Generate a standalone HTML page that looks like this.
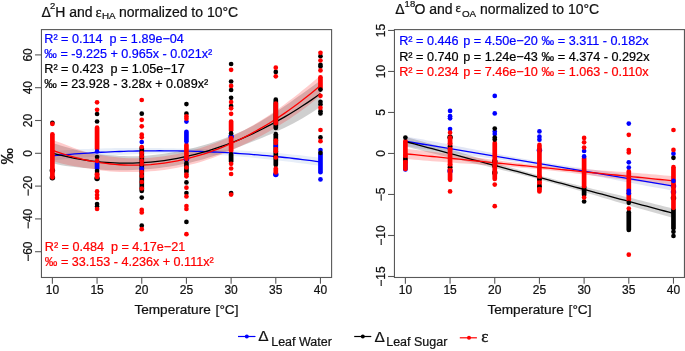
<!DOCTYPE html><html><head><meta charset="utf-8"><style>html,body{margin:0;padding:0;background:#fff;width:685px;height:351px;overflow:hidden;position:relative}svg{will-change:transform}</style></head><body><svg width="685" height="351" viewBox="0 0 685 351" style="position:absolute;left:0;top:0">
<g font-family='"Liberation Sans", sans-serif' style="paint-order:stroke">
<path d="M52.39,151.32 L56.86,150.92 L61.33,150.55 L65.79,150.20 L70.26,149.89 L74.73,149.60 L79.20,149.34 L83.67,149.10 L88.13,148.88 L92.60,148.69 L97.07,148.53 L101.54,148.38 L106.01,148.26 L110.47,148.15 L114.94,148.07 L119.41,148.00 L123.88,147.95 L128.35,147.92 L132.81,147.90 L137.28,147.89 L141.75,147.91 L146.22,147.93 L150.69,147.96 L155.15,148.01 L159.62,148.07 L164.09,148.13 L168.56,148.21 L173.03,148.29 L177.49,148.38 L181.96,148.47 L186.43,148.57 L190.90,148.67 L195.37,148.79 L199.83,148.91 L204.30,149.04 L208.77,149.18 L213.24,149.33 L217.71,149.49 L222.17,149.67 L226.64,149.85 L231.11,150.06 L235.58,150.27 L240.05,150.50 L244.51,150.74 L248.98,151.00 L253.45,151.28 L257.92,151.57 L262.39,151.89 L266.85,152.22 L271.32,152.57 L275.79,152.94 L280.26,153.33 L284.73,153.74 L289.19,154.18 L293.66,154.63 L298.13,155.11 L302.60,155.62 L307.07,156.15 L311.53,156.70 L316.00,157.28 L320.47,157.89 L320.47,165.89 L316.00,165.27 L311.53,164.66 L307.07,164.06 L302.60,163.47 L298.13,162.89 L293.66,162.32 L289.19,161.76 L284.73,161.22 L280.26,160.68 L275.79,160.16 L271.32,159.65 L266.85,159.16 L262.39,158.69 L257.92,158.22 L253.45,157.78 L248.98,157.35 L244.51,156.94 L240.05,156.55 L235.58,156.18 L231.11,155.83 L226.64,155.50 L222.17,155.19 L217.71,154.91 L213.24,154.64 L208.77,154.40 L204.30,154.18 L199.83,153.99 L195.37,153.82 L190.90,153.68 L186.43,153.57 L181.96,153.48 L177.49,153.43 L173.03,153.40 L168.56,153.40 L164.09,153.43 L159.62,153.48 L155.15,153.56 L150.69,153.67 L146.22,153.79 L141.75,153.94 L137.28,154.11 L132.81,154.31 L128.35,154.52 L123.88,154.75 L119.41,155.00 L114.94,155.27 L110.47,155.55 L106.01,155.85 L101.54,156.16 L97.07,156.49 L92.60,156.83 L88.13,157.18 L83.67,157.55 L79.20,157.92 L74.73,158.30 L70.26,158.69 L65.79,159.09 L61.33,159.50 L56.86,159.91 L52.39,160.32Z" fill="rgba(70,120,200,0.13)" stroke="none"/>
<path d="M52.39,143.12 L56.86,144.37 L61.33,145.66 L65.79,146.96 L70.26,148.25 L74.73,149.49 L79.20,150.65 L83.67,151.72 L88.13,152.65 L92.60,153.43 L97.07,154.01 L101.54,154.48 L106.01,154.91 L110.47,155.29 L114.94,155.62 L119.41,155.89 L123.88,156.09 L128.35,156.20 L132.81,156.21 L137.28,156.13 L141.75,155.93 L146.22,155.64 L150.69,155.27 L155.15,154.82 L159.62,154.30 L164.09,153.70 L168.56,153.03 L173.03,152.28 L177.49,151.46 L181.96,150.56 L186.43,149.59 L190.90,148.55 L195.37,147.43 L199.83,146.24 L204.30,144.98 L208.77,143.64 L213.24,142.24 L217.71,140.76 L222.17,139.20 L226.64,137.58 L231.11,135.89 L235.58,134.08 L240.05,132.12 L244.51,130.01 L248.98,127.76 L253.45,125.39 L257.92,122.90 L262.39,120.29 L266.85,117.59 L271.32,114.80 L275.79,111.92 L280.26,108.97 L284.73,105.96 L289.19,102.89 L293.66,99.77 L298.13,96.61 L302.60,93.43 L307.07,90.23 L311.53,87.01 L316.00,83.80 L320.47,80.59 L320.47,106.59 L316.00,109.71 L311.53,112.68 L307.07,115.50 L302.60,118.18 L298.13,120.74 L293.66,123.18 L289.19,125.51 L284.73,127.73 L280.26,129.87 L275.79,131.92 L271.32,133.90 L266.85,135.82 L262.39,137.68 L257.92,139.49 L253.45,141.26 L248.98,143.01 L244.51,144.74 L240.05,146.45 L235.58,148.17 L231.11,149.89 L226.64,151.58 L222.17,153.19 L217.71,154.73 L213.24,156.19 L208.77,157.58 L204.30,158.89 L199.83,160.13 L195.37,161.29 L190.90,162.38 L186.43,163.39 L181.96,164.33 L177.49,165.20 L173.03,165.99 L168.56,166.72 L164.09,167.36 L159.62,167.94 L155.15,168.45 L150.69,168.88 L146.22,169.24 L141.75,169.53 L137.28,169.77 L132.81,169.98 L128.35,170.14 L123.88,170.25 L119.41,170.29 L114.94,170.26 L110.47,170.15 L106.01,169.94 L101.54,169.63 L97.07,169.21 L92.60,168.76 L88.13,168.35 L83.67,167.96 L79.20,167.54 L74.73,167.09 L70.26,166.56 L65.79,165.92 L61.33,165.16 L56.86,164.24 L52.39,163.12Z" fill="rgba(0,0,0,0.19)" stroke="none"/>
<path d="M52.39,139.70 L56.86,141.38 L61.33,143.12 L65.79,144.87 L70.26,146.60 L74.73,148.27 L79.20,149.86 L83.67,151.31 L88.13,152.61 L92.60,153.71 L97.07,154.58 L101.54,155.30 L106.01,155.96 L110.47,156.57 L114.94,157.10 L119.41,157.55 L123.88,157.91 L128.35,158.17 L132.81,158.32 L137.28,158.35 L141.75,158.25 L146.22,158.04 L150.69,157.73 L155.15,157.33 L159.62,156.84 L164.09,156.25 L168.56,155.57 L173.03,154.80 L177.49,153.93 L181.96,152.98 L186.43,151.93 L190.90,150.79 L195.37,149.56 L199.83,148.24 L204.30,146.84 L208.77,145.34 L213.24,143.75 L217.71,142.07 L222.17,140.30 L226.64,138.45 L231.11,136.50 L235.58,134.45 L240.05,132.26 L244.51,129.95 L248.98,127.51 L253.45,124.96 L257.92,122.29 L262.39,119.52 L266.85,116.63 L271.32,113.65 L275.79,110.58 L280.26,107.41 L284.73,104.15 L289.19,100.82 L293.66,97.40 L298.13,93.92 L302.60,90.36 L307.07,86.74 L311.53,83.06 L316.00,79.33 L320.47,75.55 L320.47,95.55 L316.00,99.29 L311.53,102.90 L307.07,106.38 L302.60,109.74 L298.13,112.98 L293.66,116.11 L289.19,119.13 L284.73,122.04 L280.26,124.86 L275.79,127.58 L271.32,130.20 L266.85,132.75 L262.39,135.21 L257.92,137.59 L253.45,139.90 L248.98,142.14 L244.51,144.31 L240.05,146.43 L235.58,148.49 L231.11,150.50 L226.64,152.44 L222.17,154.29 L217.71,156.05 L213.24,157.71 L208.77,159.27 L204.30,160.75 L199.83,162.13 L195.37,163.42 L190.90,164.62 L186.43,165.73 L181.96,166.75 L177.49,167.67 L173.03,168.51 L168.56,169.26 L164.09,169.91 L159.62,170.48 L155.15,170.95 L150.69,171.34 L146.22,171.64 L141.75,171.85 L137.28,172.00 L132.81,172.09 L128.35,172.12 L123.88,172.08 L119.41,171.95 L114.94,171.74 L110.47,171.42 L106.01,171.00 L101.54,170.45 L97.07,169.78 L92.60,169.07 L88.13,168.41 L83.67,167.76 L79.20,167.10 L74.73,166.37 L70.26,165.56 L65.79,164.62 L61.33,163.52 L56.86,162.22 L52.39,160.70Z" fill="rgba(255,0,0,0.20)" stroke="none"/>
<path d="M52.39,155.82 L56.86,155.41 L61.33,155.02 L65.79,154.65 L70.26,154.29 L74.73,153.95 L79.20,153.63 L83.67,153.32 L88.13,153.03 L92.60,152.76 L97.07,152.51 L101.54,152.27 L106.01,152.05 L110.47,151.85 L114.94,151.67 L119.41,151.50 L123.88,151.35 L128.35,151.22 L132.81,151.10 L137.28,151.00 L141.75,150.92 L146.22,150.86 L150.69,150.81 L155.15,150.79 L159.62,150.77 L164.09,150.78 L168.56,150.80 L173.03,150.84 L177.49,150.90 L181.96,150.98 L186.43,151.07 L190.90,151.18 L195.37,151.31 L199.83,151.45 L204.30,151.61 L208.77,151.79 L213.24,151.99 L217.71,152.20 L222.17,152.43 L226.64,152.68 L231.11,152.94 L235.58,153.23 L240.05,153.53 L244.51,153.84 L248.98,154.18 L253.45,154.53 L257.92,154.90 L262.39,155.29 L266.85,155.69 L271.32,156.11 L275.79,156.55 L280.26,157.01 L284.73,157.48 L289.19,157.97 L293.66,158.48 L298.13,159.00 L302.60,159.54 L307.07,160.10 L311.53,160.68 L316.00,161.27 L320.47,161.89" fill="none" stroke="#0000ff" stroke-width="1.3"/>
<path d="M52.39,153.12 L56.86,154.30 L61.33,155.41 L65.79,156.44 L70.26,157.40 L74.73,158.29 L79.20,159.10 L83.67,159.84 L88.13,160.50 L92.60,161.09 L97.07,161.61 L101.54,162.05 L106.01,162.42 L110.47,162.72 L114.94,162.94 L119.41,163.09 L123.88,163.17 L128.35,163.17 L132.81,163.10 L137.28,162.95 L141.75,162.73 L146.22,162.44 L150.69,162.07 L155.15,161.63 L159.62,161.12 L164.09,160.53 L168.56,159.87 L173.03,159.14 L177.49,158.33 L181.96,157.45 L186.43,156.49 L190.90,155.46 L195.37,154.36 L199.83,153.19 L204.30,151.94 L208.77,150.61 L213.24,149.21 L217.71,147.74 L222.17,146.20 L226.64,144.58 L231.11,142.89 L235.58,141.12 L240.05,139.28 L244.51,137.37 L248.98,135.39 L253.45,133.33 L257.92,131.19 L262.39,128.99 L266.85,126.70 L271.32,124.35 L275.79,121.92 L280.26,119.42 L284.73,116.84 L289.19,114.20 L293.66,111.47 L298.13,108.68 L302.60,105.81 L307.07,102.86 L311.53,99.85 L316.00,96.76 L320.47,93.59" fill="none" stroke="#000000" stroke-width="1.3"/>
<path d="M52.39,150.20 L56.86,151.80 L61.33,153.32 L65.79,154.75 L70.26,156.08 L74.73,157.32 L79.20,158.48 L83.67,159.54 L88.13,160.51 L92.60,161.39 L97.07,162.18 L101.54,162.87 L106.01,163.48 L110.47,163.99 L114.94,164.42 L119.41,164.75 L123.88,164.99 L128.35,165.15 L132.81,165.21 L137.28,165.18 L141.75,165.05 L146.22,164.84 L150.69,164.54 L155.15,164.14 L159.62,163.66 L164.09,163.08 L168.56,162.41 L173.03,161.65 L177.49,160.80 L181.96,159.86 L186.43,158.83 L190.90,157.71 L195.37,156.49 L199.83,155.19 L204.30,153.79 L208.77,152.30 L213.24,150.73 L217.71,149.06 L222.17,147.30 L226.64,145.45 L231.11,143.50 L235.58,141.47 L240.05,139.35 L244.51,137.13 L248.98,134.83 L253.45,132.43 L257.92,129.94 L262.39,127.36 L266.85,124.69 L271.32,121.93 L275.79,119.08 L280.26,116.13 L284.73,113.10 L289.19,109.97 L293.66,106.76 L298.13,103.45 L302.60,100.05 L307.07,96.56 L311.53,92.98 L316.00,89.31 L320.47,85.55" fill="none" stroke="#ff0000" stroke-width="1.3"/>
<circle cx="186.43" cy="159.3" r="2.75" fill="#0000ff"/>
<circle cx="231.11" cy="136.5" r="2.75" fill="#0000ff"/>
<circle cx="275.79" cy="174.5" r="2.75" fill="#0000ff"/>
<circle cx="52.39" cy="170.6" r="2.75" fill="#000000"/>
<circle cx="52.39" cy="177.8" r="2.75" fill="#000000"/>
<circle cx="97.07" cy="178.5" r="2.75" fill="#000000"/>
<line x1="52.39" y1="134.3" x2="52.39" y2="177.3" stroke="#ff0000" stroke-width="4.7" stroke-linecap="round"/>
<line x1="97.07" y1="127.7" x2="97.07" y2="149.0" stroke="#ff0000" stroke-width="4.7" stroke-linecap="round"/>
<line x1="97.07" y1="163.5" x2="97.07" y2="168.5" stroke="#0000ff" stroke-width="4.7" stroke-linecap="round"/>
<line x1="97.07" y1="173.0" x2="97.07" y2="177.0" stroke="#ff0000" stroke-width="4.7" stroke-linecap="round"/>
<line x1="141.75" y1="148.0" x2="141.75" y2="191.0" stroke="#000000" stroke-width="4.7" stroke-linecap="round"/>
<line x1="186.43" y1="144.9" x2="186.43" y2="158.8" stroke="#ff0000" stroke-width="4.7" stroke-linecap="round"/>
<line x1="186.43" y1="131.8" x2="186.43" y2="141.4" stroke="#0000ff" stroke-width="4.7" stroke-linecap="round"/>
<line x1="186.43" y1="163.0" x2="186.43" y2="172.0" stroke="#000000" stroke-width="4.7" stroke-linecap="round"/>
<line x1="231.11" y1="121.6" x2="231.11" y2="130.3" stroke="#ff0000" stroke-width="4.7" stroke-linecap="round"/>
<line x1="231.11" y1="138.0" x2="231.11" y2="151.0" stroke="#ff0000" stroke-width="4.7" stroke-linecap="round"/>
<line x1="231.11" y1="154.4" x2="231.11" y2="161.5" stroke="#000000" stroke-width="4.7" stroke-linecap="round"/>
<line x1="275.79" y1="99.7" x2="275.79" y2="127.9" stroke="#000000" stroke-width="4.7" stroke-linecap="round"/>
<line x1="275.79" y1="103.6" x2="275.79" y2="123.2" stroke="#ff0000" stroke-width="4.7" stroke-linecap="round"/>
<line x1="275.79" y1="134.2" x2="275.79" y2="165.0" stroke="#000000" stroke-width="4.7" stroke-linecap="round"/>
<line x1="275.79" y1="168.5" x2="275.79" y2="172.4" stroke="#ff0000" stroke-width="4.7" stroke-linecap="round"/>
<line x1="320.47" y1="77.3" x2="320.47" y2="87.9" stroke="#ff0000" stroke-width="4.7" stroke-linecap="round"/>
<line x1="320.47" y1="154.3" x2="320.47" y2="172.2" stroke="#0000ff" stroke-width="4.7" stroke-linecap="round"/>
<circle cx="97.07" cy="151.5" r="2.35" fill="#0000ff"/>
<circle cx="141.75" cy="142.0" r="2.35" fill="#0000ff"/>
<circle cx="141.75" cy="168.5" r="2.35" fill="#0000ff"/>
<circle cx="186.43" cy="121.6" r="2.35" fill="#0000ff"/>
<circle cx="275.79" cy="146.0" r="2.35" fill="#0000ff"/>
<circle cx="320.47" cy="150.0" r="2.35" fill="#0000ff"/>
<circle cx="320.47" cy="179.4" r="2.35" fill="#0000ff"/>
<circle cx="52.39" cy="122.8" r="2.35" fill="#000000"/>
<circle cx="97.07" cy="114.0" r="2.35" fill="#000000"/>
<circle cx="97.07" cy="121.5" r="2.35" fill="#000000"/>
<circle cx="97.07" cy="157.0" r="2.35" fill="#000000"/>
<circle cx="97.07" cy="171.0" r="2.35" fill="#000000"/>
<circle cx="97.07" cy="204.0" r="2.35" fill="#000000"/>
<circle cx="97.07" cy="206.4" r="2.35" fill="#000000"/>
<circle cx="141.75" cy="113.7" r="2.35" fill="#000000"/>
<circle cx="141.75" cy="197.6" r="2.35" fill="#000000"/>
<circle cx="141.75" cy="225.7" r="2.35" fill="#000000"/>
<circle cx="186.43" cy="104.1" r="2.35" fill="#000000"/>
<circle cx="186.43" cy="113.7" r="2.35" fill="#000000"/>
<circle cx="186.43" cy="182.4" r="2.35" fill="#000000"/>
<circle cx="186.43" cy="193.0" r="2.35" fill="#000000"/>
<circle cx="186.43" cy="221.9" r="2.35" fill="#000000"/>
<circle cx="231.11" cy="64.0" r="2.35" fill="#000000"/>
<circle cx="231.11" cy="81.5" r="2.35" fill="#000000"/>
<circle cx="231.11" cy="90.0" r="2.35" fill="#000000"/>
<circle cx="231.11" cy="97.8" r="2.35" fill="#000000"/>
<circle cx="231.11" cy="106.0" r="2.35" fill="#000000"/>
<circle cx="231.11" cy="133.4" r="2.35" fill="#000000"/>
<circle cx="231.11" cy="193.0" r="2.35" fill="#000000"/>
<circle cx="275.79" cy="71.9" r="2.35" fill="#000000"/>
<circle cx="320.47" cy="56.2" r="2.35" fill="#000000"/>
<circle cx="320.47" cy="64.8" r="2.35" fill="#000000"/>
<circle cx="320.47" cy="66.5" r="2.35" fill="#000000"/>
<circle cx="320.47" cy="89.6" r="2.35" fill="#000000"/>
<circle cx="320.47" cy="101.8" r="2.35" fill="#000000"/>
<circle cx="320.47" cy="104.4" r="2.35" fill="#000000"/>
<circle cx="320.47" cy="111.2" r="2.35" fill="#000000"/>
<circle cx="320.47" cy="113.5" r="2.35" fill="#000000"/>
<circle cx="320.47" cy="137.4" r="2.35" fill="#000000"/>
<circle cx="320.47" cy="152.8" r="2.35" fill="#000000"/>
<circle cx="52.39" cy="123.9" r="2.35" fill="#ff0000"/>
<circle cx="97.07" cy="102.3" r="2.35" fill="#ff0000"/>
<circle cx="97.07" cy="109.8" r="2.35" fill="#ff0000"/>
<circle cx="97.07" cy="160.8" r="2.35" fill="#ff0000"/>
<circle cx="97.07" cy="174.5" r="2.35" fill="#ff0000"/>
<circle cx="97.07" cy="191.4" r="2.35" fill="#ff0000"/>
<circle cx="97.07" cy="195.0" r="2.35" fill="#ff0000"/>
<circle cx="97.07" cy="198.0" r="2.35" fill="#ff0000"/>
<circle cx="97.07" cy="209.0" r="2.35" fill="#ff0000"/>
<circle cx="141.75" cy="100.0" r="2.35" fill="#ff0000"/>
<circle cx="141.75" cy="119.8" r="2.35" fill="#ff0000"/>
<circle cx="141.75" cy="126.3" r="2.35" fill="#ff0000"/>
<circle cx="141.75" cy="134.7" r="2.35" fill="#ff0000"/>
<circle cx="141.75" cy="137.3" r="2.35" fill="#ff0000"/>
<circle cx="141.75" cy="147.0" r="2.35" fill="#ff0000"/>
<circle cx="141.75" cy="153.0" r="2.35" fill="#ff0000"/>
<circle cx="141.75" cy="156.5" r="2.35" fill="#ff0000"/>
<circle cx="141.75" cy="161.0" r="2.35" fill="#ff0000"/>
<circle cx="141.75" cy="164.0" r="2.35" fill="#ff0000"/>
<circle cx="141.75" cy="172.0" r="2.35" fill="#ff0000"/>
<circle cx="141.75" cy="176.0" r="2.35" fill="#ff0000"/>
<circle cx="141.75" cy="182.0" r="2.35" fill="#ff0000"/>
<circle cx="141.75" cy="188.5" r="2.35" fill="#ff0000"/>
<circle cx="141.75" cy="209.9" r="2.35" fill="#ff0000"/>
<circle cx="141.75" cy="212.5" r="2.35" fill="#ff0000"/>
<circle cx="141.75" cy="229.2" r="2.35" fill="#ff0000"/>
<circle cx="186.43" cy="116.4" r="2.35" fill="#ff0000"/>
<circle cx="186.43" cy="118.7" r="2.35" fill="#ff0000"/>
<circle cx="186.43" cy="167.5" r="2.35" fill="#ff0000"/>
<circle cx="186.43" cy="174.5" r="2.35" fill="#ff0000"/>
<circle cx="186.43" cy="176.3" r="2.35" fill="#ff0000"/>
<circle cx="186.43" cy="187.7" r="2.35" fill="#ff0000"/>
<circle cx="186.43" cy="196.4" r="2.35" fill="#ff0000"/>
<circle cx="186.43" cy="206.0" r="2.35" fill="#ff0000"/>
<circle cx="186.43" cy="209.0" r="2.35" fill="#ff0000"/>
<circle cx="186.43" cy="234.2" r="2.35" fill="#ff0000"/>
<circle cx="231.11" cy="69.8" r="2.35" fill="#ff0000"/>
<circle cx="231.11" cy="85.9" r="2.35" fill="#ff0000"/>
<circle cx="231.11" cy="102.0" r="2.35" fill="#ff0000"/>
<circle cx="231.11" cy="108.3" r="2.35" fill="#ff0000"/>
<circle cx="231.11" cy="113.8" r="2.35" fill="#ff0000"/>
<circle cx="231.11" cy="163.8" r="2.35" fill="#ff0000"/>
<circle cx="231.11" cy="168.5" r="2.35" fill="#ff0000"/>
<circle cx="231.11" cy="174.0" r="2.35" fill="#ff0000"/>
<circle cx="231.11" cy="194.6" r="2.35" fill="#ff0000"/>
<circle cx="275.79" cy="67.7" r="2.35" fill="#ff0000"/>
<circle cx="275.79" cy="76.3" r="2.35" fill="#ff0000"/>
<circle cx="275.79" cy="140.5" r="2.35" fill="#ff0000"/>
<circle cx="275.79" cy="143.0" r="2.35" fill="#ff0000"/>
<circle cx="275.79" cy="149.0" r="2.35" fill="#ff0000"/>
<circle cx="275.79" cy="151.3" r="2.35" fill="#ff0000"/>
<circle cx="275.79" cy="157.5" r="2.35" fill="#ff0000"/>
<circle cx="320.47" cy="52.8" r="2.35" fill="#ff0000"/>
<circle cx="320.47" cy="60.5" r="2.35" fill="#ff0000"/>
<circle cx="320.47" cy="70.4" r="2.35" fill="#ff0000"/>
<circle cx="320.47" cy="95.8" r="2.35" fill="#ff0000"/>
<circle cx="320.47" cy="107.8" r="2.35" fill="#ff0000"/>
<circle cx="320.47" cy="130.0" r="2.35" fill="#ff0000"/>
<circle cx="320.47" cy="141.2" r="2.35" fill="#ff0000"/>
<path d="M405.39,136.45 L409.86,137.21 L414.33,137.98 L418.79,138.77 L423.26,139.57 L427.73,140.39 L432.20,141.22 L436.67,142.06 L441.13,142.91 L445.60,143.77 L450.07,144.64 L454.54,145.51 L459.01,146.39 L463.47,147.28 L467.94,148.16 L472.41,149.05 L476.88,149.93 L481.35,150.82 L485.81,151.70 L490.28,152.58 L494.75,153.45 L499.22,154.32 L503.69,155.18 L508.15,156.03 L512.62,156.87 L517.09,157.70 L521.56,158.52 L526.03,159.32 L530.49,160.11 L534.96,160.89 L539.43,161.64 L543.90,162.38 L548.37,163.10 L552.83,163.81 L557.30,164.50 L561.77,165.18 L566.24,165.85 L570.71,166.51 L575.17,167.16 L579.64,167.80 L584.11,168.43 L588.58,169.06 L593.05,169.68 L597.51,170.30 L601.98,170.92 L606.45,171.54 L610.92,172.15 L615.39,172.77 L619.85,173.39 L624.32,174.01 L628.79,174.64 L633.26,175.27 L637.73,175.92 L642.19,176.56 L646.66,177.22 L651.13,177.89 L655.60,178.57 L660.07,179.26 L664.53,179.97 L669.00,180.69 L673.47,181.43 L673.47,190.63 L669.00,189.88 L664.53,189.10 L660.07,188.32 L655.60,187.52 L651.13,186.71 L646.66,185.88 L642.19,185.05 L637.73,184.20 L633.26,183.35 L628.79,182.49 L624.32,181.63 L619.85,180.76 L615.39,179.89 L610.92,179.01 L606.45,178.14 L601.98,177.26 L597.51,176.38 L593.05,175.51 L588.58,174.64 L584.11,173.78 L579.64,172.92 L575.17,172.07 L570.71,171.22 L566.24,170.39 L561.77,169.57 L557.30,168.75 L552.83,167.95 L548.37,167.17 L543.90,166.40 L539.43,165.64 L534.96,164.90 L530.49,164.18 L526.03,163.48 L521.56,162.79 L517.09,162.12 L512.62,161.45 L508.15,160.80 L503.69,160.16 L499.22,159.53 L494.75,158.90 L490.28,158.29 L485.81,157.67 L481.35,157.06 L476.88,156.45 L472.41,155.85 L467.94,155.24 L463.47,154.63 L459.01,154.02 L454.54,153.41 L450.07,152.79 L445.60,152.16 L441.13,151.53 L436.67,150.89 L432.20,150.24 L427.73,149.58 L423.26,148.90 L418.79,148.21 L414.33,147.51 L409.86,146.79 L405.39,146.05Z" fill="rgba(60,90,190,0.15)" stroke="none"/>
<path d="M405.39,136.76 L409.86,137.96 L414.33,139.19 L418.79,140.43 L423.26,141.68 L427.73,142.95 L432.20,144.23 L436.67,145.52 L441.13,146.83 L445.60,148.14 L450.07,149.46 L454.54,150.78 L459.01,152.11 L463.47,153.44 L467.94,154.78 L472.41,156.12 L476.88,157.45 L481.35,158.79 L485.81,160.12 L490.28,161.45 L494.75,162.78 L499.22,164.10 L503.69,165.41 L508.15,166.71 L512.62,168.00 L517.09,169.28 L521.56,170.55 L526.03,171.81 L530.49,173.05 L534.96,174.27 L539.43,175.48 L543.90,176.66 L548.37,177.84 L552.83,179.00 L557.30,180.14 L561.77,181.27 L566.24,182.39 L570.71,183.50 L575.17,184.60 L579.64,185.69 L584.11,186.78 L588.58,187.85 L593.05,188.93 L597.51,190.00 L601.98,191.07 L606.45,192.14 L610.92,193.20 L615.39,194.27 L619.85,195.34 L624.32,196.42 L628.79,197.50 L633.26,198.58 L637.73,199.67 L642.19,200.77 L646.66,201.88 L651.13,203.00 L655.60,204.13 L660.07,205.28 L664.53,206.43 L669.00,207.61 L673.47,208.80 L673.47,218.00 L669.00,216.79 L664.53,215.57 L660.07,214.33 L655.60,213.08 L651.13,211.82 L646.66,210.54 L642.19,209.26 L637.73,207.96 L633.26,206.66 L628.79,205.35 L624.32,204.03 L619.85,202.71 L615.39,201.39 L610.92,200.06 L606.45,198.74 L601.98,197.41 L597.51,196.08 L593.05,194.76 L588.58,193.44 L584.11,192.12 L579.64,190.81 L575.17,189.51 L570.71,188.22 L566.24,186.93 L561.77,185.66 L557.30,184.39 L552.83,183.14 L548.37,181.90 L543.90,180.68 L539.43,179.48 L534.96,178.29 L530.49,177.12 L526.03,175.96 L521.56,174.82 L517.09,173.70 L512.62,172.58 L508.15,171.48 L503.69,170.39 L499.22,169.30 L494.75,168.23 L490.28,167.16 L485.81,166.09 L481.35,165.03 L476.88,163.97 L472.41,162.92 L467.94,161.86 L463.47,160.80 L459.01,159.74 L454.54,158.67 L450.07,157.60 L445.60,156.53 L441.13,155.44 L436.67,154.35 L432.20,153.25 L427.73,152.14 L423.26,151.01 L418.79,149.87 L414.33,148.71 L409.86,147.54 L405.39,146.36Z" fill="rgba(0,0,0,0.17)" stroke="none"/>
<path d="M405.39,148.78 L409.86,149.24 L414.33,149.72 L418.79,150.22 L423.26,150.73 L427.73,151.26 L432.20,151.80 L436.67,152.35 L441.13,152.92 L445.60,153.49 L450.07,154.07 L454.54,154.66 L459.01,155.25 L463.47,155.85 L467.94,156.45 L472.41,157.05 L476.88,157.65 L481.35,158.25 L485.81,158.85 L490.28,159.44 L494.75,160.03 L499.22,160.61 L503.69,161.18 L508.15,161.74 L512.62,162.30 L517.09,162.84 L521.56,163.37 L526.03,163.88 L530.49,164.37 L534.96,164.85 L539.43,165.32 L543.90,165.76 L548.37,166.18 L552.83,166.60 L557.30,166.99 L561.77,167.38 L566.24,167.75 L570.71,168.11 L575.17,168.47 L579.64,168.81 L584.11,169.15 L588.58,169.48 L593.05,169.81 L597.51,170.14 L601.98,170.46 L606.45,170.78 L610.92,171.10 L615.39,171.42 L619.85,171.75 L624.32,172.08 L628.79,172.41 L633.26,172.75 L637.73,173.09 L642.19,173.45 L646.66,173.81 L651.13,174.18 L655.60,174.57 L660.07,174.97 L664.53,175.38 L669.00,175.80 L673.47,176.25 L673.47,185.45 L669.00,184.99 L664.53,184.51 L660.07,184.02 L655.60,183.52 L651.13,183.00 L646.66,182.47 L642.19,181.93 L637.73,181.38 L633.26,180.83 L628.79,180.26 L624.32,179.69 L619.85,179.12 L615.39,178.54 L610.92,177.96 L606.45,177.38 L601.98,176.80 L597.51,176.22 L593.05,175.64 L588.58,175.07 L584.11,174.50 L579.64,173.94 L575.17,173.38 L570.71,172.83 L566.24,172.29 L561.77,171.76 L557.30,171.25 L552.83,170.74 L548.37,170.25 L543.90,169.77 L539.43,169.32 L534.96,168.87 L530.49,168.45 L526.03,168.05 L521.56,167.66 L517.09,167.28 L512.62,166.92 L508.15,166.57 L503.69,166.23 L499.22,165.90 L494.75,165.58 L490.28,165.27 L485.81,164.96 L481.35,164.65 L476.88,164.35 L472.41,164.05 L467.94,163.75 L463.47,163.45 L459.01,163.14 L454.54,162.83 L450.07,162.52 L445.60,162.19 L441.13,161.87 L436.67,161.53 L432.20,161.18 L427.73,160.82 L423.26,160.44 L418.79,160.05 L414.33,159.65 L409.86,159.22 L405.39,158.78Z" fill="rgba(255,0,0,0.20)" stroke="none"/>
<path d="M405.39,141.25 L409.86,142.00 L414.33,142.74 L418.79,143.49 L423.26,144.24 L427.73,144.98 L432.20,145.73 L436.67,146.48 L441.13,147.22 L445.60,147.97 L450.07,148.72 L454.54,149.46 L459.01,150.21 L463.47,150.95 L467.94,151.70 L472.41,152.45 L476.88,153.19 L481.35,153.94 L485.81,154.69 L490.28,155.43 L494.75,156.18 L499.22,156.92 L503.69,157.67 L508.15,158.42 L512.62,159.16 L517.09,159.91 L521.56,160.66 L526.03,161.40 L530.49,162.15 L534.96,162.89 L539.43,163.64 L543.90,164.39 L548.37,165.13 L552.83,165.88 L557.30,166.63 L561.77,167.37 L566.24,168.12 L570.71,168.87 L575.17,169.61 L579.64,170.36 L584.11,171.10 L588.58,171.85 L593.05,172.60 L597.51,173.34 L601.98,174.09 L606.45,174.84 L610.92,175.58 L615.39,176.33 L619.85,177.07 L624.32,177.82 L628.79,178.57 L633.26,179.31 L637.73,180.06 L642.19,180.81 L646.66,181.55 L651.13,182.30 L655.60,183.04 L660.07,183.79 L664.53,184.54 L669.00,185.28 L673.47,186.03" fill="none" stroke="#0000ff" stroke-width="1.3"/>
<path d="M405.39,141.56 L409.86,142.75 L414.33,143.95 L418.79,145.15 L423.26,146.35 L427.73,147.54 L432.20,148.74 L436.67,149.94 L441.13,151.13 L445.60,152.33 L450.07,153.53 L454.54,154.73 L459.01,155.92 L463.47,157.12 L467.94,158.32 L472.41,159.52 L476.88,160.71 L481.35,161.91 L485.81,163.11 L490.28,164.31 L494.75,165.50 L499.22,166.70 L503.69,167.90 L508.15,169.09 L512.62,170.29 L517.09,171.49 L521.56,172.69 L526.03,173.88 L530.49,175.08 L534.96,176.28 L539.43,177.48 L543.90,178.67 L548.37,179.87 L552.83,181.07 L557.30,182.27 L561.77,183.46 L566.24,184.66 L570.71,185.86 L575.17,187.05 L579.64,188.25 L584.11,189.45 L588.58,190.65 L593.05,191.84 L597.51,193.04 L601.98,194.24 L606.45,195.44 L610.92,196.63 L615.39,197.83 L619.85,199.03 L624.32,200.23 L628.79,201.42 L633.26,202.62 L637.73,203.82 L642.19,205.02 L646.66,206.21 L651.13,207.41 L655.60,208.61 L660.07,209.80 L664.53,211.00 L669.00,212.20 L673.47,213.40" fill="none" stroke="#000000" stroke-width="1.3"/>
<path d="M405.39,153.78 L409.86,154.23 L414.33,154.69 L418.79,155.14 L423.26,155.59 L427.73,156.04 L432.20,156.49 L436.67,156.94 L441.13,157.39 L445.60,157.84 L450.07,158.29 L454.54,158.75 L459.01,159.20 L463.47,159.65 L467.94,160.10 L472.41,160.55 L476.88,161.00 L481.35,161.45 L485.81,161.90 L490.28,162.35 L494.75,162.80 L499.22,163.26 L503.69,163.71 L508.15,164.16 L512.62,164.61 L517.09,165.06 L521.56,165.51 L526.03,165.96 L530.49,166.41 L534.96,166.86 L539.43,167.32 L543.90,167.77 L548.37,168.22 L552.83,168.67 L557.30,169.12 L561.77,169.57 L566.24,170.02 L570.71,170.47 L575.17,170.92 L579.64,171.37 L584.11,171.83 L588.58,172.28 L593.05,172.73 L597.51,173.18 L601.98,173.63 L606.45,174.08 L610.92,174.53 L615.39,174.98 L619.85,175.43 L624.32,175.89 L628.79,176.34 L633.26,176.79 L637.73,177.24 L642.19,177.69 L646.66,178.14 L651.13,178.59 L655.60,179.04 L660.07,179.49 L664.53,179.94 L669.00,180.40 L673.47,180.85" fill="none" stroke="#ff0000" stroke-width="1.3"/>
<circle cx="450.07" cy="171.0" r="2.75" fill="#0000ff"/>
<circle cx="539.43" cy="150.2" r="2.75" fill="#0000ff"/>
<circle cx="673.47" cy="186.0" r="2.75" fill="#0000ff"/>
<circle cx="673.47" cy="192.0" r="2.75" fill="#0000ff"/>
<circle cx="450.07" cy="137.2" r="2.75" fill="#000000"/>
<circle cx="494.75" cy="161.3" r="2.75" fill="#000000"/>
<circle cx="494.75" cy="165.7" r="2.75" fill="#000000"/>
<circle cx="494.75" cy="172.7" r="2.75" fill="#000000"/>
<circle cx="673.47" cy="198.0" r="2.75" fill="#000000"/>
<line x1="405.39" y1="160.0" x2="405.39" y2="169.5" stroke="#0000ff" stroke-width="4.7" stroke-linecap="round"/>
<line x1="405.39" y1="141.1" x2="405.39" y2="169.0" stroke="#ff0000" stroke-width="4.7" stroke-linecap="round"/>
<line x1="450.07" y1="137.6" x2="450.07" y2="179.8" stroke="#ff0000" stroke-width="4.7" stroke-linecap="round"/>
<line x1="494.75" y1="142.9" x2="494.75" y2="179.0" stroke="#ff0000" stroke-width="4.7" stroke-linecap="round"/>
<line x1="539.43" y1="144.9" x2="539.43" y2="191.4" stroke="#ff0000" stroke-width="4.7" stroke-linecap="round"/>
<line x1="584.11" y1="187.0" x2="584.11" y2="195.0" stroke="#000000" stroke-width="4.7" stroke-linecap="round"/>
<line x1="584.11" y1="158.1" x2="584.11" y2="186.2" stroke="#ff0000" stroke-width="4.7" stroke-linecap="round"/>
<line x1="628.79" y1="212.2" x2="628.79" y2="230.0" stroke="#000000" stroke-width="4.7" stroke-linecap="round"/>
<line x1="628.79" y1="171.4" x2="628.79" y2="200.0" stroke="#ff0000" stroke-width="4.7" stroke-linecap="round"/>
<line x1="673.47" y1="209.5" x2="673.47" y2="228.3" stroke="#000000" stroke-width="4.7" stroke-linecap="round"/>
<line x1="673.47" y1="167.2" x2="673.47" y2="207.8" stroke="#ff0000" stroke-width="4.7" stroke-linecap="round"/>
<circle cx="450.07" cy="110.9" r="2.35" fill="#0000ff"/>
<circle cx="450.07" cy="116.2" r="2.35" fill="#0000ff"/>
<circle cx="450.07" cy="118.3" r="2.35" fill="#0000ff"/>
<circle cx="450.07" cy="129.1" r="2.35" fill="#0000ff"/>
<circle cx="494.75" cy="95.9" r="2.35" fill="#0000ff"/>
<circle cx="494.75" cy="113.4" r="2.35" fill="#0000ff"/>
<circle cx="494.75" cy="131.5" r="2.35" fill="#0000ff"/>
<circle cx="494.75" cy="134.0" r="2.35" fill="#0000ff"/>
<circle cx="539.43" cy="131.4" r="2.35" fill="#0000ff"/>
<circle cx="539.43" cy="136.7" r="2.35" fill="#0000ff"/>
<circle cx="539.43" cy="139.7" r="2.35" fill="#0000ff"/>
<circle cx="584.11" cy="151.0" r="2.35" fill="#0000ff"/>
<circle cx="584.11" cy="156.4" r="2.35" fill="#0000ff"/>
<circle cx="628.79" cy="123.6" r="2.35" fill="#0000ff"/>
<circle cx="628.79" cy="162.3" r="2.35" fill="#0000ff"/>
<circle cx="628.79" cy="167.5" r="2.35" fill="#0000ff"/>
<circle cx="628.79" cy="190.8" r="2.35" fill="#0000ff"/>
<circle cx="628.79" cy="193.2" r="2.35" fill="#0000ff"/>
<circle cx="673.47" cy="153.7" r="2.35" fill="#0000ff"/>
<circle cx="673.47" cy="180.9" r="2.35" fill="#0000ff"/>
<circle cx="405.39" cy="137.6" r="2.35" fill="#000000"/>
<circle cx="405.39" cy="159.0" r="2.35" fill="#000000"/>
<circle cx="450.07" cy="146.4" r="2.35" fill="#000000"/>
<circle cx="450.07" cy="167.2" r="2.35" fill="#000000"/>
<circle cx="494.75" cy="128.6" r="2.35" fill="#000000"/>
<circle cx="494.75" cy="137.6" r="2.35" fill="#000000"/>
<circle cx="494.75" cy="139.6" r="2.35" fill="#000000"/>
<circle cx="539.43" cy="179.2" r="2.35" fill="#000000"/>
<circle cx="539.43" cy="186.2" r="2.35" fill="#000000"/>
<circle cx="584.11" cy="201.5" r="2.35" fill="#000000"/>
<circle cx="628.79" cy="202.8" r="2.35" fill="#000000"/>
<circle cx="673.47" cy="157.8" r="2.35" fill="#000000"/>
<circle cx="673.47" cy="231.8" r="2.35" fill="#000000"/>
<circle cx="673.47" cy="236.0" r="2.35" fill="#000000"/>
<circle cx="405.39" cy="155.8" r="2.35" fill="#ff0000"/>
<circle cx="405.39" cy="162.2" r="2.35" fill="#ff0000"/>
<circle cx="450.07" cy="132.7" r="2.35" fill="#ff0000"/>
<circle cx="450.07" cy="143.6" r="2.35" fill="#ff0000"/>
<circle cx="450.07" cy="149.2" r="2.35" fill="#ff0000"/>
<circle cx="450.07" cy="164.4" r="2.35" fill="#ff0000"/>
<circle cx="450.07" cy="170.0" r="2.35" fill="#ff0000"/>
<circle cx="450.07" cy="191.4" r="2.35" fill="#ff0000"/>
<circle cx="494.75" cy="184.6" r="2.35" fill="#ff0000"/>
<circle cx="494.75" cy="206.2" r="2.35" fill="#ff0000"/>
<circle cx="539.43" cy="176.4" r="2.35" fill="#ff0000"/>
<circle cx="539.43" cy="182.5" r="2.35" fill="#ff0000"/>
<circle cx="539.43" cy="189.0" r="2.35" fill="#ff0000"/>
<circle cx="584.11" cy="137.9" r="2.35" fill="#ff0000"/>
<circle cx="584.11" cy="142.3" r="2.35" fill="#ff0000"/>
<circle cx="584.11" cy="147.6" r="2.35" fill="#ff0000"/>
<circle cx="584.11" cy="197.6" r="2.35" fill="#ff0000"/>
<circle cx="628.79" cy="134.8" r="2.35" fill="#ff0000"/>
<circle cx="628.79" cy="150.1" r="2.35" fill="#ff0000"/>
<circle cx="628.79" cy="152.5" r="2.35" fill="#ff0000"/>
<circle cx="628.79" cy="208.5" r="2.35" fill="#ff0000"/>
<circle cx="628.79" cy="254.7" r="2.35" fill="#ff0000"/>
<circle cx="673.47" cy="130.0" r="2.35" fill="#ff0000"/>
<circle cx="673.47" cy="149.9" r="2.35" fill="#ff0000"/>
<rect x="41.45" y="29.6" width="290.15" height="247.88" fill="none" stroke="#585858" stroke-width="1.1"/>
<line x1="52.39" y1="277.48" x2="52.39" y2="283.68" stroke="#585858" stroke-width="1.1"/>
<text x="52.39" y="294.4" font-size="12" text-anchor="middle" fill="#111" stroke="#111" stroke-width="0.22">10</text>
<line x1="97.07" y1="277.48" x2="97.07" y2="283.68" stroke="#585858" stroke-width="1.1"/>
<text x="97.07" y="294.4" font-size="12" text-anchor="middle" fill="#111" stroke="#111" stroke-width="0.22">15</text>
<line x1="141.75" y1="277.48" x2="141.75" y2="283.68" stroke="#585858" stroke-width="1.1"/>
<text x="141.75" y="294.4" font-size="12" text-anchor="middle" fill="#111" stroke="#111" stroke-width="0.22">20</text>
<line x1="186.43" y1="277.48" x2="186.43" y2="283.68" stroke="#585858" stroke-width="1.1"/>
<text x="186.43" y="294.4" font-size="12" text-anchor="middle" fill="#111" stroke="#111" stroke-width="0.22">25</text>
<line x1="231.11" y1="277.48" x2="231.11" y2="283.68" stroke="#585858" stroke-width="1.1"/>
<text x="231.11" y="294.4" font-size="12" text-anchor="middle" fill="#111" stroke="#111" stroke-width="0.22">30</text>
<line x1="275.79" y1="277.48" x2="275.79" y2="283.68" stroke="#585858" stroke-width="1.1"/>
<text x="275.79" y="294.4" font-size="12" text-anchor="middle" fill="#111" stroke="#111" stroke-width="0.22">35</text>
<line x1="320.47" y1="277.48" x2="320.47" y2="283.68" stroke="#585858" stroke-width="1.1"/>
<text x="320.47" y="294.4" font-size="12" text-anchor="middle" fill="#111" stroke="#111" stroke-width="0.22">40</text>
<line x1="35.050000000000004" y1="54.90" x2="41.45" y2="54.90" stroke="#585858" stroke-width="1.1"/>
<text transform="translate(31.85,54.90) rotate(-90)" font-size="12" text-anchor="middle" fill="#111" stroke="#111" stroke-width="0.22">60</text>
<line x1="35.050000000000004" y1="87.70" x2="41.45" y2="87.70" stroke="#585858" stroke-width="1.1"/>
<text transform="translate(31.85,87.70) rotate(-90)" font-size="12" text-anchor="middle" fill="#111" stroke="#111" stroke-width="0.22">40</text>
<line x1="35.050000000000004" y1="120.50" x2="41.45" y2="120.50" stroke="#585858" stroke-width="1.1"/>
<text transform="translate(31.85,120.50) rotate(-90)" font-size="12" text-anchor="middle" fill="#111" stroke="#111" stroke-width="0.22">20</text>
<line x1="35.050000000000004" y1="153.30" x2="41.45" y2="153.30" stroke="#585858" stroke-width="1.1"/>
<text transform="translate(31.85,153.30) rotate(-90)" font-size="12" text-anchor="middle" fill="#111" stroke="#111" stroke-width="0.22">0</text>
<line x1="35.050000000000004" y1="186.10" x2="41.45" y2="186.10" stroke="#585858" stroke-width="1.1"/>
<text transform="translate(31.85,186.10) rotate(-90)" font-size="12" text-anchor="middle" fill="#111" stroke="#111" stroke-width="0.22">−20</text>
<line x1="35.050000000000004" y1="218.90" x2="41.45" y2="218.90" stroke="#585858" stroke-width="1.1"/>
<text transform="translate(31.85,218.90) rotate(-90)" font-size="12" text-anchor="middle" fill="#111" stroke="#111" stroke-width="0.22">−40</text>
<line x1="35.050000000000004" y1="251.70" x2="41.45" y2="251.70" stroke="#585858" stroke-width="1.1"/>
<text transform="translate(31.85,251.70) rotate(-90)" font-size="12" text-anchor="middle" fill="#111" stroke="#111" stroke-width="0.22">−60</text>
<text x="134.43" y="314.3" font-size="13.6" fill="#111" xml:space="preserve" stroke="#111" stroke-width="0.22">Temperature <tspan dx="1.1">[°C]</tspan></text>
<rect x="394.45" y="29.6" width="290.00" height="247.88" fill="none" stroke="#585858" stroke-width="1.1"/>
<line x1="405.39" y1="277.48" x2="405.39" y2="283.68" stroke="#585858" stroke-width="1.1"/>
<text x="405.39" y="294.4" font-size="12" text-anchor="middle" fill="#111" stroke="#111" stroke-width="0.22">10</text>
<line x1="450.07" y1="277.48" x2="450.07" y2="283.68" stroke="#585858" stroke-width="1.1"/>
<text x="450.07" y="294.4" font-size="12" text-anchor="middle" fill="#111" stroke="#111" stroke-width="0.22">15</text>
<line x1="494.75" y1="277.48" x2="494.75" y2="283.68" stroke="#585858" stroke-width="1.1"/>
<text x="494.75" y="294.4" font-size="12" text-anchor="middle" fill="#111" stroke="#111" stroke-width="0.22">20</text>
<line x1="539.43" y1="277.48" x2="539.43" y2="283.68" stroke="#585858" stroke-width="1.1"/>
<text x="539.43" y="294.4" font-size="12" text-anchor="middle" fill="#111" stroke="#111" stroke-width="0.22">25</text>
<line x1="584.11" y1="277.48" x2="584.11" y2="283.68" stroke="#585858" stroke-width="1.1"/>
<text x="584.11" y="294.4" font-size="12" text-anchor="middle" fill="#111" stroke="#111" stroke-width="0.22">30</text>
<line x1="628.79" y1="277.48" x2="628.79" y2="283.68" stroke="#585858" stroke-width="1.1"/>
<text x="628.79" y="294.4" font-size="12" text-anchor="middle" fill="#111" stroke="#111" stroke-width="0.22">35</text>
<line x1="673.47" y1="277.48" x2="673.47" y2="283.68" stroke="#585858" stroke-width="1.1"/>
<text x="673.47" y="294.4" font-size="12" text-anchor="middle" fill="#111" stroke="#111" stroke-width="0.22">40</text>
<line x1="388.05" y1="30.46" x2="394.45" y2="30.46" stroke="#585858" stroke-width="1.1"/>
<text transform="translate(384.84999999999997,30.46) rotate(-90)" font-size="12" text-anchor="middle" fill="#111" stroke="#111" stroke-width="0.22">15</text>
<line x1="388.05" y1="71.47" x2="394.45" y2="71.47" stroke="#585858" stroke-width="1.1"/>
<text transform="translate(384.84999999999997,71.47) rotate(-90)" font-size="12" text-anchor="middle" fill="#111" stroke="#111" stroke-width="0.22">10</text>
<line x1="388.05" y1="112.47" x2="394.45" y2="112.47" stroke="#585858" stroke-width="1.1"/>
<text transform="translate(384.84999999999997,112.47) rotate(-90)" font-size="12" text-anchor="middle" fill="#111" stroke="#111" stroke-width="0.22">5</text>
<line x1="388.05" y1="153.48" x2="394.45" y2="153.48" stroke="#585858" stroke-width="1.1"/>
<text transform="translate(384.84999999999997,153.48) rotate(-90)" font-size="12" text-anchor="middle" fill="#111" stroke="#111" stroke-width="0.22">0</text>
<line x1="388.05" y1="194.48" x2="394.45" y2="194.48" stroke="#585858" stroke-width="1.1"/>
<text transform="translate(384.84999999999997,194.48) rotate(-90)" font-size="12" text-anchor="middle" fill="#111" stroke="#111" stroke-width="0.22">−5</text>
<line x1="388.05" y1="235.49" x2="394.45" y2="235.49" stroke="#585858" stroke-width="1.1"/>
<text transform="translate(384.84999999999997,235.49) rotate(-90)" font-size="12" text-anchor="middle" fill="#111" stroke="#111" stroke-width="0.22">−10</text>
<line x1="388.05" y1="276.50" x2="394.45" y2="276.50" stroke="#585858" stroke-width="1.1"/>
<text transform="translate(384.84999999999997,276.50) rotate(-90)" font-size="12" text-anchor="middle" fill="#111" stroke="#111" stroke-width="0.22">−15</text>
<text x="487.43" y="314.3" font-size="13.6" fill="#111" xml:space="preserve" stroke="#111" stroke-width="0.22">Temperature <tspan dx="1.1">[°C]</tspan></text>
<text x="41.5" y="16.6" font-size="14" fill="#111" stroke="#111" stroke-width="0.22">Δ</text>
<text x="50" y="8.7" font-size="9.5" fill="#111" stroke="#111" stroke-width="0.22">2</text>
<text x="55.2" y="16.6" font-size="14" fill="#111" xml:space="preserve" stroke="#111" stroke-width="0.22">H and</text>
<text x="95.6" y="16.6" font-size="14.5" font-family='"Liberation Serif", serif' fill="#111" stroke="#111" stroke-width="0.3">ε</text>
<text x="102" y="19.1" font-size="9.8" fill="#111" stroke="#111" stroke-width="0.22">HA</text>
<text x="119" y="16.6" font-size="14" fill="#111" stroke="#111" stroke-width="0.22">normalized to 10°C</text>
<text x="395.3" y="14.2" font-size="14" fill="#111" stroke="#111" stroke-width="0.22">Δ</text>
<text x="404.6" y="7.3" font-size="9.5" fill="#111" stroke="#111" stroke-width="0.22">18</text>
<text x="414.4" y="14.4" font-size="14" fill="#111" xml:space="preserve" stroke="#111" stroke-width="0.22">O and</text>
<text x="455.6" y="11.9" font-size="12.5" font-family='"Liberation Serif", serif' fill="#111" stroke="#111" stroke-width="0.3">ε</text>
<text x="462" y="16.9" font-size="9.8" fill="#111" stroke="#111" stroke-width="0.22">OA</text>
<text x="480" y="14.3" font-size="14" fill="#111" stroke="#111" stroke-width="0.22">normalized to 10°C</text>
<text transform="translate(12.6,156.3) rotate(-90)" font-size="16.5" text-anchor="middle" fill="#111" stroke="#111" stroke-width="0.22">‰</text>
<text x="44.3" y="43.1" font-size="12.6" fill="#0000ff" xml:space="preserve" stroke="#0000ff" stroke-width="0.22">R² = 0.114  p = 1.89e−04</text>
<text x="44.3" y="57.9" font-size="12.6" fill="#0000ff" xml:space="preserve" stroke="#0000ff" stroke-width="0.22">‰ = -9.225 + 0.965x - 0.021x²</text>
<text x="44.3" y="73.3" font-size="12.6" fill="#000000" xml:space="preserve" stroke="#000000" stroke-width="0.22">R² = 0.423  p = 1.05e−17</text>
<text x="44.3" y="87.5" font-size="12.6" fill="#000000" xml:space="preserve" stroke="#000000" stroke-width="0.22">‰ = 23.928 - 3.28x + 0.089x²</text>
<text x="44.8" y="251.3" font-size="12.6" fill="#ff0000" xml:space="preserve" stroke="#ff0000" stroke-width="0.22">R² = 0.484  p = 4.17e−21</text>
<text x="44.8" y="266" font-size="12.6" fill="#ff0000" xml:space="preserve" stroke="#ff0000" stroke-width="0.22">‰ = 33.153 - 4.236x + 0.111x²</text>
<text x="399.2" y="45.4" font-size="12.65" fill="#0000ff" xml:space="preserve" stroke="#0000ff" stroke-width="0.22">R² = 0.446</text>
<text x="463.3" y="45.4" font-size="12.65" fill="#0000ff" xml:space="preserve" stroke="#0000ff" stroke-width="0.22">p = 4.50e−20</text>
<text x="541.6" y="45.4" font-size="12.65" fill="#0000ff" xml:space="preserve" stroke="#0000ff" stroke-width="0.22">‰ = 3.311 - 0.182x</text>
<text x="399.2" y="60.7" font-size="12.65" fill="#000000" xml:space="preserve" stroke="#000000" stroke-width="0.22">R² = 0.740</text>
<text x="463.3" y="60.7" font-size="12.65" fill="#000000" xml:space="preserve" stroke="#000000" stroke-width="0.22">p = 1.24e−43</text>
<text x="541.6" y="60.7" font-size="12.65" fill="#000000" xml:space="preserve" stroke="#000000" stroke-width="0.22">‰ = 4.374 - 0.292x</text>
<text x="399.2" y="76.2" font-size="12.65" fill="#ff0000" xml:space="preserve" stroke="#ff0000" stroke-width="0.22">R² = 0.234</text>
<text x="463.3" y="76.2" font-size="12.65" fill="#ff0000" xml:space="preserve" stroke="#ff0000" stroke-width="0.22">p = 7.46e−10</text>
<text x="541.6" y="76.2" font-size="12.65" fill="#ff0000" xml:space="preserve" stroke="#ff0000" stroke-width="0.22">‰ = 1.063 - 0.110x</text>
<line x1="238" y1="336.5" x2="255.5" y2="336.5" stroke="#0000ff" stroke-width="1.2"/><circle cx="246.8" cy="336.5" r="2" fill="#0000ff"/>
<text x="258.3" y="341.2" font-size="15.5" fill="#111" stroke="#111" stroke-width="0.22">Δ</text>
<text x="271.2" y="346" font-size="12.5" fill="#111" stroke="#111" stroke-width="0.22">Leaf Water</text>
<line x1="354.2" y1="336.5" x2="371.3" y2="336.5" stroke="#000000" stroke-width="1.2"/><circle cx="362.8" cy="336.5" r="2" fill="#000000"/>
<text x="374.4" y="341.6" font-size="15.5" fill="#111" stroke="#111" stroke-width="0.22">Δ</text>
<text x="386.2" y="346" font-size="12.5" fill="#111" stroke="#111" stroke-width="0.22">Leaf Sugar</text>
<line x1="459.8" y1="337.8" x2="476.9" y2="337.8" stroke="#ff0000" stroke-width="1.2"/><circle cx="469" cy="337.8" r="2" fill="#ff0000"/>
<text x="481.2" y="342.2" font-size="17" font-family='"Liberation Serif", serif' fill="#111" stroke="#111" stroke-width="0.35">ε</text>
</g></svg></body></html>
